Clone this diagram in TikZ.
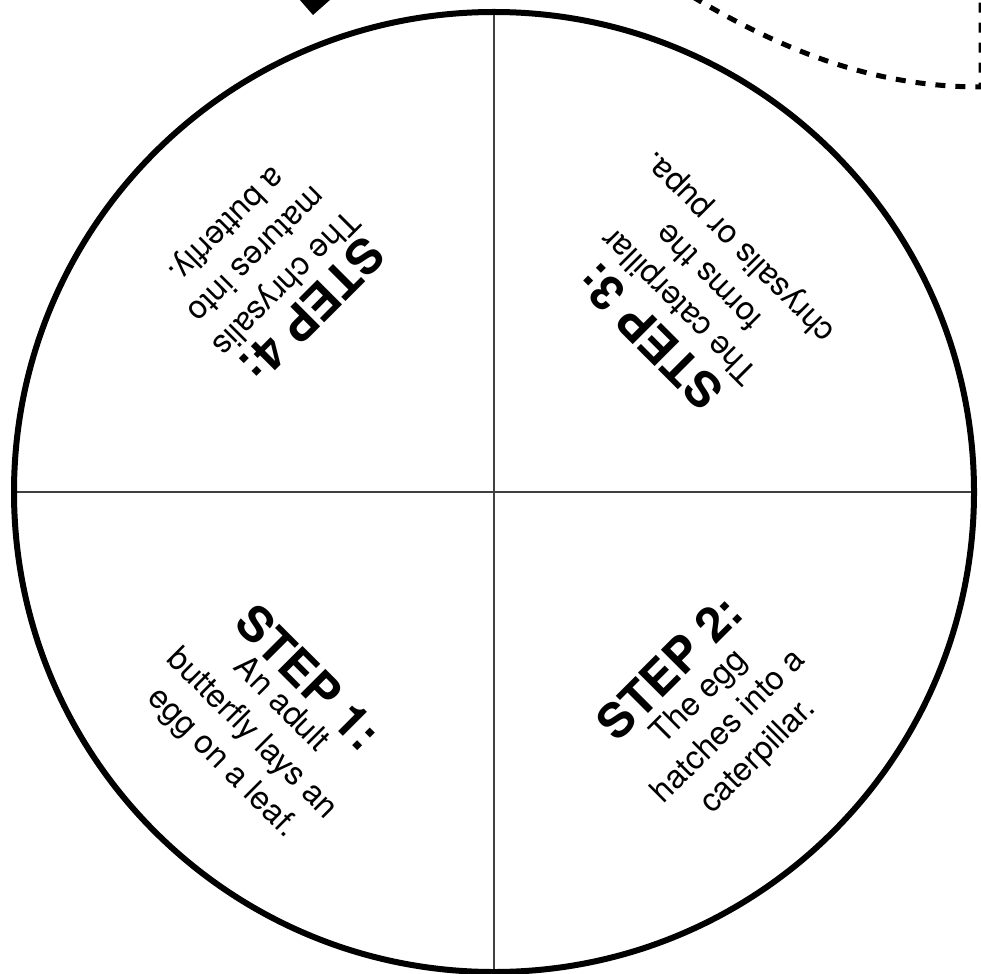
\documentclass[tikz,border=0pt]{standalone}
\usepackage{fontspec}
\setmainfont{TeX Gyre Heros}
\begin{document}
\begin{tikzpicture}[x=1pt,y=-1pt,
  steptext/.style={font=\fontsize{48}{50}\selectfont\bfseries, inner sep=0pt},
  bodytext/.style={font=\fontsize{32.5}{41.5}\selectfont, align=center, inner sep=0pt},
  wheel/.style={line width=6pt},
  divider/.style={line width=1.5pt, black!75},
  cutline/.style={line width=5pt, dash pattern=on 10pt off 10pt}]
\useasboundingbox (0,0) rectangle (981,973);
\clip (0,0) rectangle (981,973);
\coordinate (C) at (494,492);
\coordinate (top) at (494,12);
\coordinate (bot) at (494,972);
\coordinate (lft) at (14,492);
\coordinate (rgt) at (974,492);
% dividers
\draw[divider] (top) -- (bot);
\draw[divider] (lft) -- (rgt);
% wheel
\draw[wheel] (C) circle[radius=480pt];
% pointer (cut off at the top)
\fill (299,-1) -- (331,-1) -- (313,15) -- cycle;
% dashed cut line
\coordinate (cutA) at (693,-3);
\coordinate (cutB) at (981,87);
\coordinate (cutC) at (981,-5);
\draw[cutline] (cutA) .. controls (790,55) and (880,87) .. (cutB) -- (cutC);
% quadrant texts
\node[steptext, rotate=-45] (step1) at (308.7,677.3) {STEP 1:};
\node[bodytext, rotate=-45] (body1) at (251.6,734.4) {An adult\\butterfly lays an\\egg on a leaf.};
\node[steptext, rotate=45] (step2) at (669.4,667.4) {STEP 2:};
\node[bodytext, rotate=45] (body2) at (729.3,727.3) {The egg\\hatches into a\\caterpillar.};
\node[steptext, rotate=135] (step3) at (649.6,336.4) {STEP 3:};
\node[bodytext, rotate=135] (body3) at (710.3,275.7) {The caterpillar\\forms the\\chrysalis or pupa.};
\node[steptext, rotate=225] (step4) at (312.3,310.3) {STEP 4:};
\node[bodytext, rotate=225] (body4) at (255.1,253.1) {The chrysalis\\matures into\\a butterfly.};
\end{tikzpicture}
\end{document}
